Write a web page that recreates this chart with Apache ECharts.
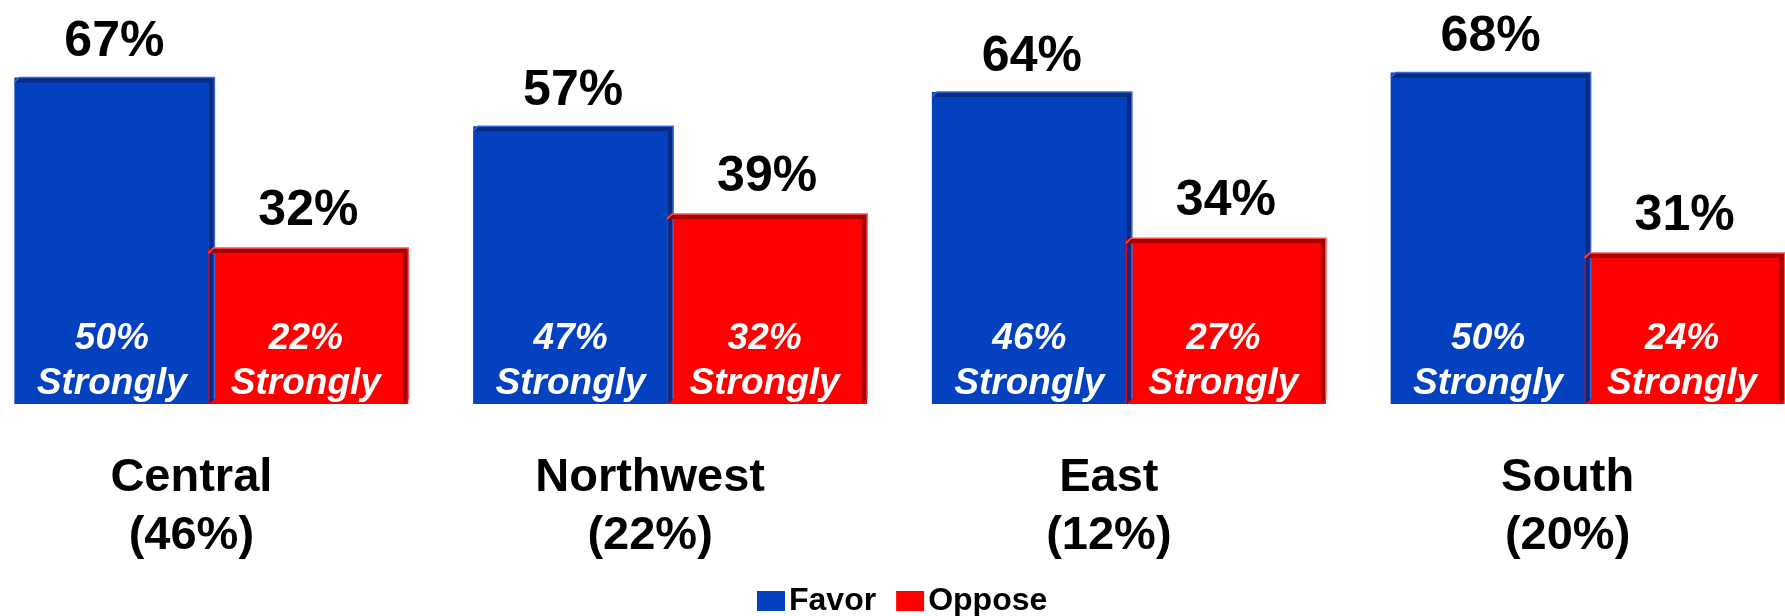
<!DOCTYPE html>
<html>
<head>
<meta charset="utf-8">
<script src="https://cdn.jsdelivr.net/npm/echarts@6/dist/echarts.min.js"></script>
<style>
    html, body { margin: 0; padding: 0; background: #fff; }
    #chart { width: 1785px; height: 616px; }
</style>
</head>
<body>
<div id="chart"></div>
<script>
// data
const regions = ['Central\n(46%)', 'Northwest\n(22%)', 'East\n(12%)', 'South\n(20%)'];
const favor = [67, 57, 64, 68];
const oppose = [32, 39, 34, 31];
const favorStrong = [50, 47, 46, 50];
const opposeStrong = [22, 32, 27, 24];

const FONT = '"Liberation Sans", Arial, sans-serif';
const BAR_W = 200;
const GAP = -6; // bars overlap a little
const BLUE = '#0341BF', BLUE_DARK = '#082A80';
const RED = '#FF0000', RED_DARK = '#A80000';

let chart = echarts.init(document.getElementById('chart'));

// bevel strips + "strongly" labels drawn on top of the plain bars
function renderEdge(params, api) {
    let idx = api.value(0);
    let side = api.value(3);
    let top = api.coord([idx, api.value(1)]);
    let base = api.coord([idx, 0]);
    let cx = top[0];
    let x0 = side === 0 ? cx - BAR_W - GAP / 2 : cx + GAP / 2;
    let x1 = x0 + BAR_W;
    let y0 = top[1], y1 = base[1];
    let d = 5;
    let dark = side === 0 ? BLUE_DARK : RED_DARK;
    let light = side === 0 ? '#3A68DA' : '#FF5050';
    return {
        type: 'group',
        children: [
            {
                type: 'polygon',
                shape: { points: [[x0, y0 + d], [x0 + d, y0], [x1, y0], [x1 - d, y0 + d]] },
                style: { fill: dark }
            },
            {
                type: 'polygon',
                shape: { points: [[x1 - d, y0 + d], [x1, y0], [x1, y1 - d], [x1 - d, y1]] },
                style: { fill: dark }
            },
            {
                type: 'polyline',
                shape: { points: [[x0, y0 + d], [x0 + d, y0], [x1, y0], [x1, y1 - d]] },
                style: { stroke: light, lineWidth: 1.5, fill: null }
            },
            {
                type: 'text',
                x: (x0 + x1 - d) / 2,
                y: y1 + 2,
                style: {
                    text: api.value(2) + '%\nStrongly',
                    fill: '#fff',
                    fontSize: 37,
                    fontWeight: 'bold',
                    fontStyle: 'italic',
                    fontFamily: FONT,
                    align: 'center',
                    verticalAlign: 'bottom',
                    lineHeight: 45
                }
            }
        ]
    };
}

let edgeData = [];
for (let i = 0; i < regions.length; i++) {
    edgeData.push([i, favor[i], favorStrong[i], 0]);
    edgeData.push([i, oppose[i], opposeStrong[i], 1]);
}

chart.setOption({
    backgroundColor: '#fff',
    animation: false,
    grid: {
        left: -18,
        right: -32,
        top: 14,
        bottom: 212,
        outerBoundsMode: 'none'
    },
    legend: {
        data: ['Favor', 'Oppose'],
        left: 752,
        top: 580,
        icon: 'rect',
        itemWidth: 28,
        itemHeight: 20,
        itemGap: 20,
        textStyle: { fontSize: 32, fontWeight: 'bold', color: '#000', fontFamily: FONT, padding: [0, 0, 0, -1] }
    },
    xAxis: {
        type: 'category',
        data: regions,
        axisLine: { show: false },
        axisTick: { show: false },
        axisLabel: {
            interval: 0,
            margin: 45,
            color: '#000',
            fontSize: 47,
            fontWeight: 'bold',
            fontFamily: FONT,
            lineHeight: 58,
            padding: [0, 40, 0, 0]
        }
    },
    yAxis: {
        type: 'value',
        min: 0,
        max: 80,
        show: false
    },
    series: [
        {
            name: 'Favor',
            type: 'bar',
            data: favor,
            barWidth: BAR_W,
            barGap: (GAP / BAR_W * 100) + '%',
            itemStyle: { color: BLUE },
            label: {
                show: true,
                position: 'top',
                distance: 10,
                formatter: '{c}%',
                color: '#000',
                fontSize: 50,
                fontWeight: 'bold',
                fontFamily: FONT
            }
        },
        {
            name: 'Oppose',
            type: 'bar',
            data: oppose,
            barWidth: BAR_W,
            itemStyle: { color: RED },
            label: {
                show: true,
                position: 'top',
                distance: 12,
                formatter: '{c}%',
                color: '#000',
                fontSize: 50,
                fontWeight: 'bold',
                fontFamily: FONT
            }
        },
        {
            type: 'custom',
            silent: true,
            renderItem: renderEdge,
            data: edgeData,
            z: 5
        }
    ]
});
</script>
</body>
</html>
